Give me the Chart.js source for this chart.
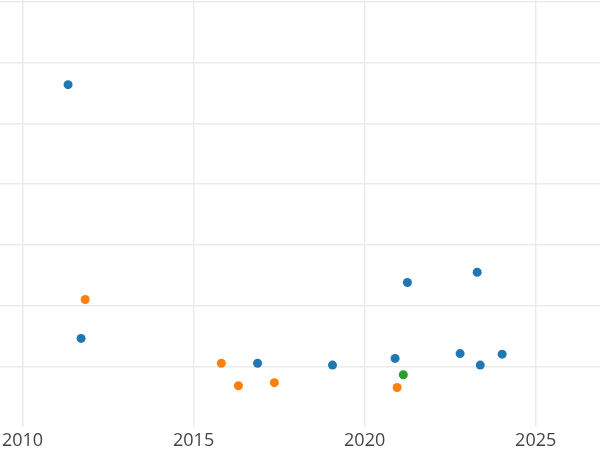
<!DOCTYPE html>
<html>
<head>
<meta charset="utf-8">
<script src="https://cdn.jsdelivr.net/npm/chart.js@4/dist/chart.umd.min.js"></script>
<style>
  html, body { margin: 0; padding: 0; background: #fff; }
  #wrap { width: 600px; height: 450px; }
</style>
</head>
<body>
<div id="wrap"><canvas id="c" width="600" height="450"></canvas></div>
<script>
// Series (x = year, y = value)
const blueX = [2011.33, 2011.71, 2016.87, 2019.06, 2020.89, 2021.25, 2022.79, 2023.29, 2023.38, 2024.02];
const blueY = [56.4, 14.6, 10.5, 10.2, 11.3, 23.8, 12.1, 25.5, 10.2, 12.0];
const orangeX = [2011.83, 2015.81, 2016.31, 2017.36, 2020.95];
const orangeY = [21.0, 10.5, 6.8, 7.3, 6.5];
const greenX = [2021.13];
const greenY = [8.6];

const xTicks = [2010, 2015, 2020, 2025];
const yTicks = [10, 20, 30, 40, 50, 60, 70];

function pts(xs, ys) { return xs.map((x, i) => ({ x: x, y: ys[i] })); }

new Chart(document.getElementById('c'), {
  type: 'scatter',
  data: {
    datasets: [
      { data: pts(blueX, blueY), backgroundColor: '#1f77b4', borderWidth: 0, pointRadius: 4.5, pointHoverRadius: 4.5 },
      { data: pts(orangeX, orangeY), backgroundColor: '#ff7f0e', borderWidth: 0, pointRadius: 4.5, pointHoverRadius: 4.5 },
      { data: pts(greenX, greenY), backgroundColor: '#2ca02c', borderWidth: 0, pointRadius: 4.5, pointHoverRadius: 4.5 }
    ]
  },
  options: {
    responsive: false,
    animation: false,
    layout: { padding: 0, autoPadding: false },
    plugins: { legend: { display: false }, tooltip: { enabled: false }, title: { display: false } },
    scales: {
      x: {
        type: 'linear',
        min: 2009.34,
        max: 2026.88,
        afterBuildTicks: s => { s.ticks = xTicks.map(v => ({ value: v })); },
        afterFit: s => { s.height = 23; s.paddingLeft = 0; s.paddingRight = 0; },
        grid: { color: '#ebebeb', lineWidth: 1.5, drawTicks: false },
        border: { display: false },
        ticks: { padding: 3, color: '#444', font: { family: 'Open Sans', size: 18 }, maxRotation: 0, autoSkip: false, callback: v => String(v) }
      },
      y: {
        type: 'linear',
        min: 0,
        max: 70.35,
        afterBuildTicks: s => { s.ticks = yTicks.map(v => ({ value: v })); },
        afterFit: s => { s.width = 0; s.paddingTop = 0; s.paddingBottom = 0; },
        grid: { color: '#ebebeb', lineWidth: 1.5, drawTicks: false },
        border: { display: false },
        ticks: { display: false }
      }
    }
  }
});
</script>
</body>
</html>
